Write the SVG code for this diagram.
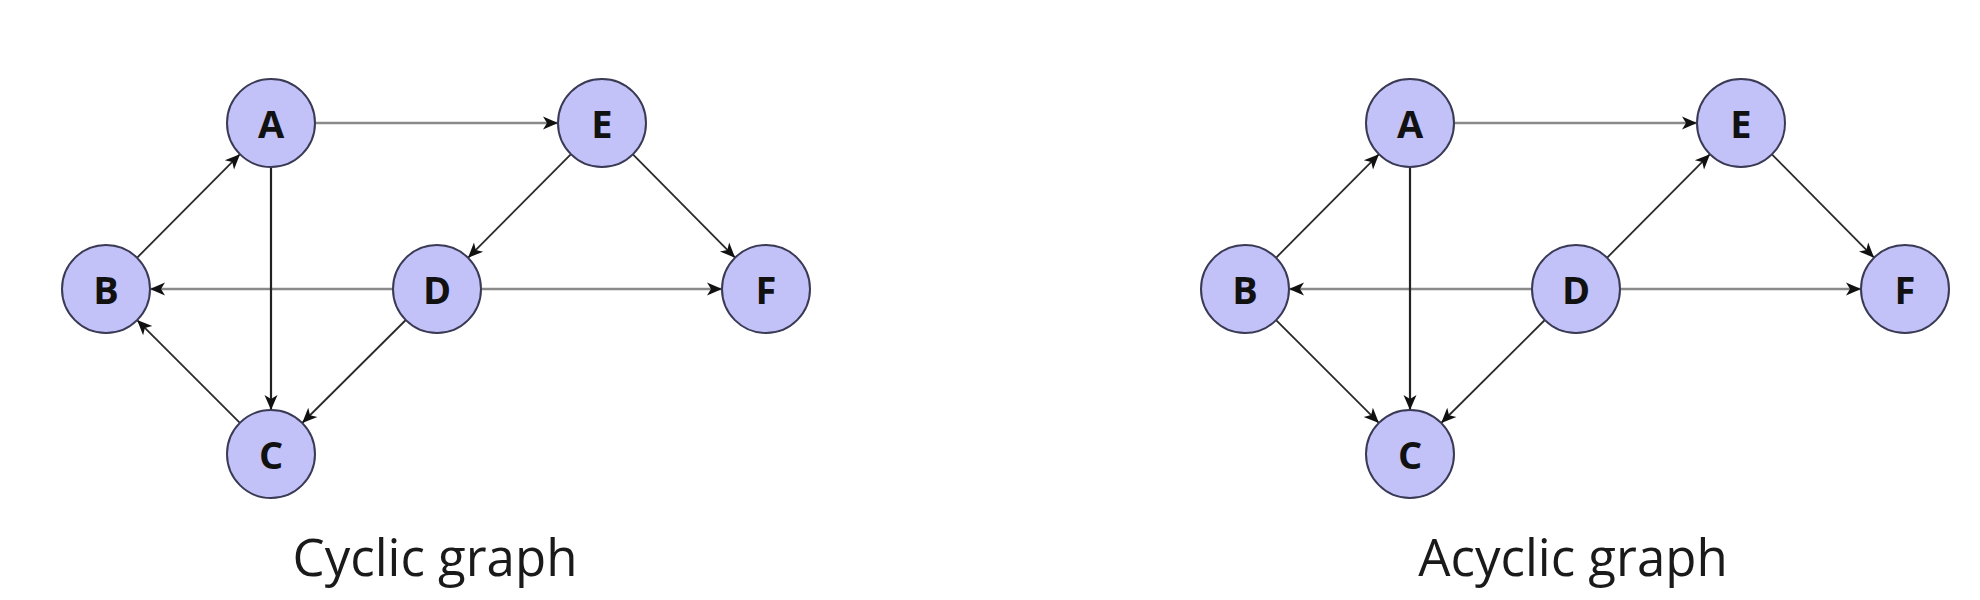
<svg xmlns="http://www.w3.org/2000/svg" width="1980" height="600" viewBox="0 0 1980 600">
<style>
.node circle{fill:#c2c2f9;stroke:#3a3a55;stroke-width:2}
.node text{font-family:"Open Sans","Noto Sans",sans-serif;font-weight:bold;font-size:38px;fill:#111;text-anchor:middle;dominant-baseline:central}
.e{stroke:#2a2a2a;stroke-width:1.8;fill:none;marker-end:url(#arr)}
.h{stroke:#8a8a8a;stroke-width:2.6}
.v{stroke:#222;stroke-width:2.2}
.cap{font-family:"Open Sans","Noto Sans",sans-serif;font-size:51px;fill:#1a1a1a;text-anchor:middle}
</style>
<defs>
<marker id="arr" viewBox="-16 -8 17 16" refX="0" refY="0" markerWidth="17" markerHeight="16" markerUnits="userSpaceOnUse" orient="auto">
<path d="M0,0 L-15,-6.5 L-11,0 L-15,6.5 Z" fill="#111"/>
</marker>
</defs>
<g id="connectors">
<line class="e h" x1="315" y1="123" x2="558" y2="123"/>
<line class="e" x1="571" y1="154.2" x2="468" y2="257.8"/>
<line class="e" x1="632.9" y1="154.3" x2="735.1" y2="257.7"/>
<line class="e h" x1="481" y1="289" x2="722" y2="289"/>
<line class="e h" x1="393" y1="289" x2="150" y2="289"/>
<line class="e" x1="137" y1="257.8" x2="240" y2="154.2"/>
<line class="e v" x1="271" y1="167" x2="271" y2="410"/>
<line class="e" x1="405.8" y1="320" x2="302.2" y2="423"/>
<line class="e" x1="239.9" y1="422.9" x2="137.1" y2="320.1"/>

<line class="e h" x1="1454" y1="123" x2="1697" y2="123"/>
<line class="e" x1="1607" y1="257.8" x2="1710" y2="154.2"/>
<line class="e" x1="1771.9" y1="154.3" x2="1874.1" y2="257.7"/>
<line class="e h" x1="1620" y1="289" x2="1861" y2="289"/>
<line class="e h" x1="1532" y1="289" x2="1289" y2="289"/>
<line class="e" x1="1276" y1="257.8" x2="1379" y2="154.2"/>
<line class="e v" x1="1410" y1="167" x2="1410" y2="410"/>
<line class="e" x1="1276.1" y1="320.1" x2="1378.9" y2="422.9"/>
<line class="e" x1="1544.8" y1="320" x2="1441.2" y2="423"/>
</g>
<g id="L_A" class="node"><circle cx="271" cy="123" r="44"/><text x="271" y="123">A</text></g>
<g id="L_E" class="node"><circle cx="602" cy="123" r="44"/><text x="602" y="123">E</text></g>
<g id="L_B" class="node"><circle cx="106" cy="289" r="44"/><text x="106" y="289">B</text></g>
<g id="L_D" class="node"><circle cx="437" cy="289" r="44"/><text x="437" y="289">D</text></g>
<g id="L_F" class="node"><circle cx="766" cy="289" r="44"/><text x="766" y="289">F</text></g>
<g id="L_C" class="node"><circle cx="271" cy="454" r="44"/><text x="271" y="454">C</text></g>

<g id="R_A" class="node"><circle cx="1410" cy="123" r="44"/><text x="1410" y="123">A</text></g>
<g id="R_E" class="node"><circle cx="1741" cy="123" r="44"/><text x="1741" y="123">E</text></g>
<g id="R_B" class="node"><circle cx="1245" cy="289" r="44"/><text x="1245" y="289">B</text></g>
<g id="R_D" class="node"><circle cx="1576" cy="289" r="44"/><text x="1576" y="289">D</text></g>
<g id="R_F" class="node"><circle cx="1905" cy="289" r="44"/><text x="1905" y="289">F</text></g>
<g id="R_C" class="node"><circle cx="1410" cy="454" r="44"/><text x="1410" y="454">C</text></g>

<text id="cap_left" class="cap" x="435" y="576">Cyclic graph</text>
<text id="cap_right" class="cap" x="1573" y="576">Acyclic graph</text>
</svg>
